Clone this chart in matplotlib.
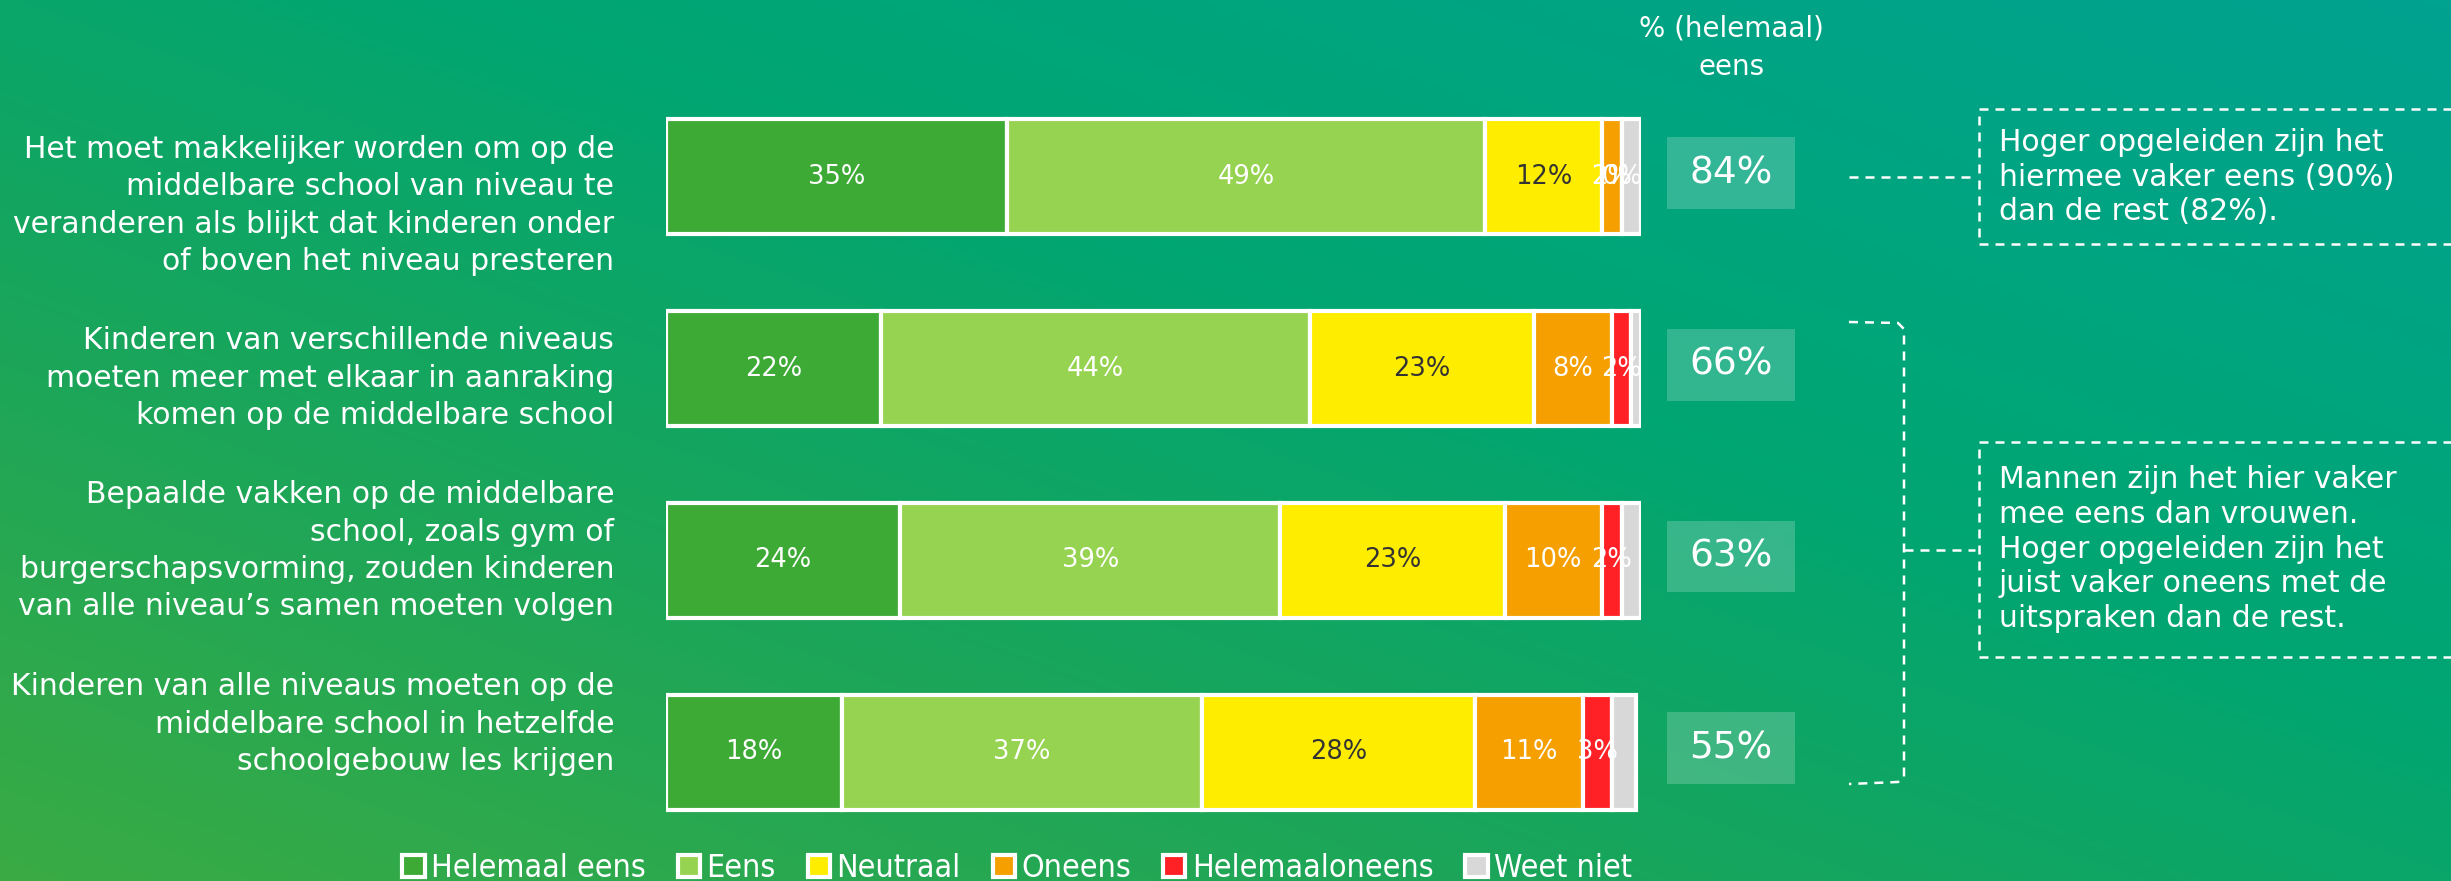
import numpy as np
import matplotlib.pyplot as plt
from matplotlib.patches import Rectangle
from matplotlib.colors import LinearSegmentedColormap

# statements (one bar each) and answer categories
statements = [
    "Het moet makkelijker worden om op de\nmiddelbare school van niveau te\nveranderen als blijkt dat kinderen onder\nof boven het niveau presteren",
    "Kinderen van verschillende niveaus\nmoeten meer met elkaar in aanraking\nkomen op de middelbare school",
    "Bepaalde vakken op de middelbare\nschool, zoals gym of\nburgerschapsvorming, zouden kinderen\nvan alle niveau\u2019s samen moeten volgen",
    "Kinderen van alle niveaus moeten op de\nmiddelbare school in hetzelfde\nschoolgebouw les krijgen",
]
categories = ["Helemaal eens", "Eens", "Neutraal", "Oneens", "Helemaaloneens", "Weet niet"]

helemaal_eens = [35, 22, 24, 18]
eens = [49, 44, 39, 37]
neutraal = [12, 23, 23, 28]
oneens = [2, 8, 10, 11]
helemaal_oneens = [0, 2, 2, 3]
weet_niet = [2, 1, 2, 2.5]

notes = [
    "Hoger opgeleiden zijn het\nhiermee vaker eens (90%)\ndan de rest (82%).",
    "Mannen zijn het hier vaker\nmee eens dan vrouwen.\nHoger opgeleiden zijn het\njuist vaker oneens met de\nuitspraken dan de rest.",
]

colors = ["#3daa35", "#96d350", "#ffed00", "#f59f00", "#ff2126", "#d8d8d8"]
text_colors = ["white", "white", "#333333", "white", "white", None]

W, H = 2451, 881
fig = plt.figure(figsize=(W / 100, H / 100), dpi=100)

# background gradient + decorations in pixel coordinates
bg = fig.add_axes([0, 0, 1, 1])
bg.set_axis_off()
yy, xx = np.mgrid[0:1:200j, 0:1:400j]
u = 0.5 * xx + 0.5 * (1 - yy)
cmap = LinearSegmentedColormap.from_list(
    "bg", [(0, "#3aab44"), (0.35, "#17a55d"), (0.6, "#00a672"), (1, "#00a290")])
bg.imshow(u, cmap=cmap, extent=[0, W, H, 0], aspect="auto", vmin=0, vmax=1)
bg.set_xlim(0, W)
bg.set_ylim(H, 0)

# the stacked bars
ax = fig.add_axes([666 / W, 1 - 848 / H, 975 / W, 767 / H])
ax.set_xlim(0, 100)
ax.set_ylim(3.5, -0.5)
ax.set_axis_off()

series = [helemaal_eens, eens, neutraal, oneens, helemaal_oneens, weet_niet]
y = np.arange(len(statements))
left = np.zeros(len(statements))
handles = []
for k, vals in enumerate(series):
    vals = np.array(vals, dtype=float)
    h = ax.barh(y, vals, left=left, height=0.6, color=colors[k],
                edgecolor="white", linewidth=3, label=categories[k])
    handles.append(h)
    if text_colors[k] is not None:
        for i, v in enumerate(vals):
            ax.text(left[i] + v / 2, i, f"{v:g}%", ha="center", va="center",
                    fontsize=18.5, color=text_colors[k])
    left += vals

# "% (helemaal) eens" column
ax.text(109.25, -0.675, "% (helemaal)\neens", ha="center", va="center",
        fontsize=20, color="white", linespacing=1.48)
for i in range(len(statements)):
    agree = helemaal_eens[i] + eens[i]
    ax.add_patch(Rectangle((102.7, i - 0.2075), 13.1, 0.375, facecolor="white",
                           alpha=0.2, edgecolor="none", clip_on=False))
    ax.text(109.25, i - 0.02, f"{agree}%", ha="center", va="center",
            fontsize=27, color="white")

# statement labels
label_off = [0.15, 0.05, -0.05, -0.146]
for i, s in enumerate(statements):
    ax.text(-5.3, i + label_off[i], s, ha="right", va="center", fontsize=21.5,
            color="white", linespacing=1.36)

# annotations
lw = 1.8
dash = (0, (3.6, 2.8))
bg.plot([1849, 1975], [177, 177], color="white", lw=lw, ls=dash)
bg.add_patch(Rectangle((1979, 109), 520, 135, fill=False, edgecolor="white",
                       lw=lw, ls=dash))
bg.text(1999, 177, notes[0], ha="left", va="center", fontsize=21.5,
        color="white", linespacing=1.26)

bg.plot([1849, 1898, 1904, 1904, 1898, 1849], [322, 323, 329, 777, 782, 784],
        color="white", lw=lw, ls=dash)
bg.plot([1904, 1975], [550, 550], color="white", lw=lw, ls=dash)
bg.add_patch(Rectangle((1979, 442), 520, 215, fill=False, edgecolor="white",
                       lw=lw, ls=dash))
bg.text(1999, 549, notes[1], ha="left", va="center", fontsize=21.5,
        color="white", linespacing=1.26)

# legend
fig.legend(handles, categories, loc="center", bbox_to_anchor=(0.415, 0.014),
           ncol=6, frameon=False, handlelength=0.7, handleheight=0.7,
           handletextpad=0.2, columnspacing=1.0, labelcolor="white",
           prop={"family": "DejaVu Sans", "stretch": "condensed", "size": 23})

fig.savefig("out.png", dpi=100)
